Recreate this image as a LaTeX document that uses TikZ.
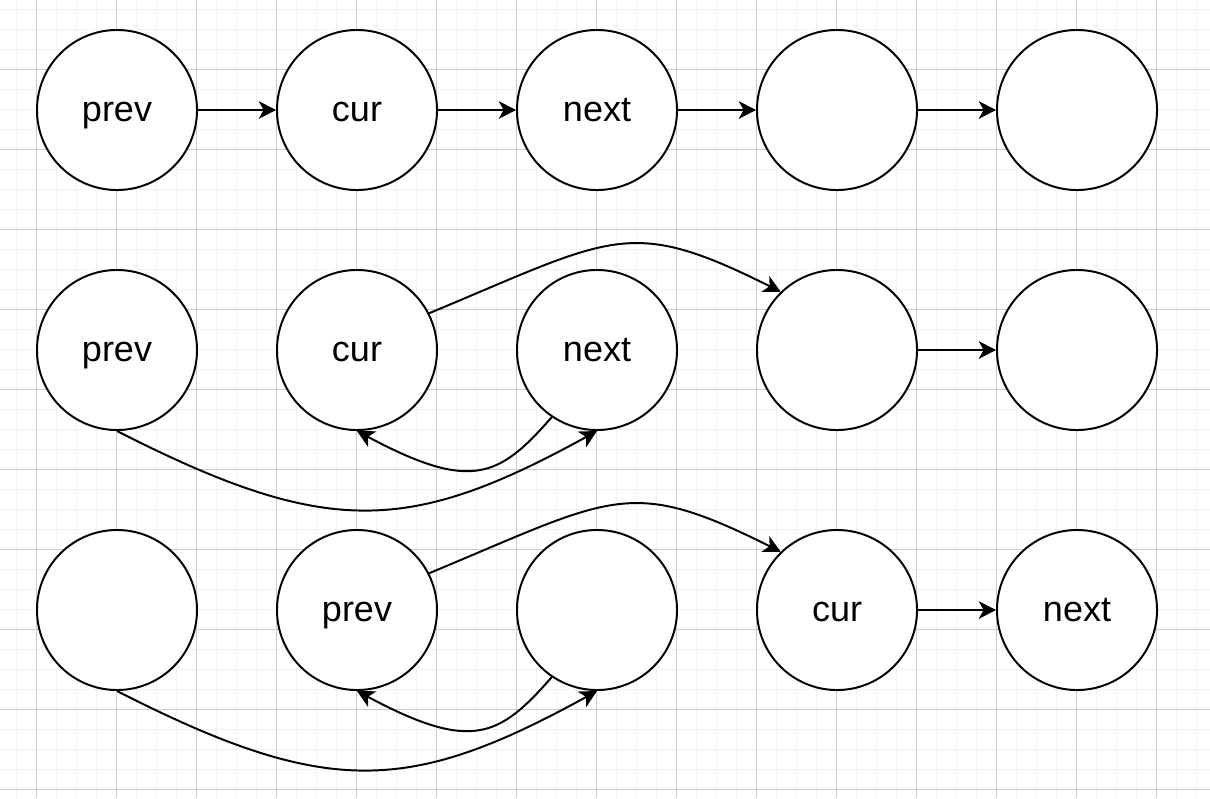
\documentclass[tikz,border=0pt]{standalone}
\usepackage{fontspec}
\setmainfont{Liberation Sans}
\usetikzlibrary{arrows.meta}

\begin{document}
\begin{tikzpicture}[x=0.025cm, y=-0.025cm, line width=1.4pt,
  minorgrid/.style={line width=0.025cm, black!5},
  majorgrid/.style={line width=0.025cm, black!20},
  listnode/.style={draw, circle, fill=white, minimum size=4cm, inner sep=0pt,
    font=\fontsize{25.6pt}{30pt}\selectfont, text height=0.65cm, text depth=0.065cm},
  link/.style={-{Stealth[length=0.43cm, width=0.44cm, inset=0.12cm]}}]

% Picture size, the grid behind everything
\useasboundingbox (0,0) rectangle (1210,798);
\fill[white] (0,0) rectangle (1210,798);
\foreach \k in {0,...,59} \draw[minorgrid] ({16.7+20*\k},0) -- ++(0,798);
\foreach \k in {0,...,39} \draw[minorgrid] (0,{9.3+20*\k}) -- ++(1210,0);
\foreach \k in {0,...,14} \draw[majorgrid] ({36.7+80*\k},0) -- ++(0,798);
\foreach \k in {0,...,9} \draw[majorgrid] (0,{69.3+80*\k}) -- ++(1210,0);

% Row 1: the list before the step
\foreach \k/\x/\t in {1/117/prev, 2/357/cur, 3/597/next, 4/837/{}, 5/1077/{}} {
  \node[listnode] (a\k) at (\x,110) {\t};
}

% Row 2: links changed
\foreach \k/\x/\t in {1/117/prev, 2/357/cur, 3/597/next, 4/837/{}, 5/1077/{}} {
  \node[listnode] (b\k) at (\x,350) {\t};
}

% Row 3: pointers moved on
\foreach \k/\x/\t in {1/117/{}, 2/357/prev, 3/597/{}, 4/837/cur, 5/1077/next} {
  \node[listnode] (c\k) at (\x,610) {\t};
}

% Straight links
\foreach \i/\j in {a1/a2, a2/a3, a3/a4, a4/a5, b4/b5, c4/c5} {
  \draw[link] (\i) -- (\j);
}

% Curved links, the same in rows 2 and 3
\foreach \r in {b, c} {
  \draw[link] (\r2.27.5) .. controls +(185,-77) and +(-152,-76) .. (\r4.134.5);
  \draw[link] (\r3.236) .. controls +(-52.6,60.2) and +(114.4,61.1) .. (\r2.south);
  \draw[link] (\r1.south) .. controls +(209.4,106.7) and +(-188.3,103.6) .. (\r3.south);
}

\end{tikzpicture}
\end{document}
